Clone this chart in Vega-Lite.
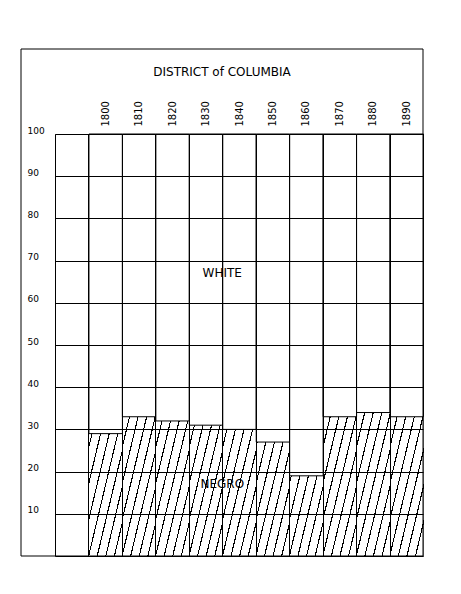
{
  "$schema": "https://vega.github.io/schema/vega-lite/v6.json",
  "width": 368,
  "height": 422,
  "autosize": {"type": "none"},
  "padding": {"left": 55, "top": 134, "right": 38, "bottom": 38},
  "background": "white",
  "config": {
    "view": {"stroke": "black", "strokeWidth": 1},
    "font": "DejaVu Sans",
    "axis": {"labelColor": "black", "labelFont": "DejaVu Sans", "gridColor": "black", "gridOpacity": 1, "gridWidth": 1}
  },
  "title": {
    "text": "DISTRICT of COLUMBIA",
    "anchor": "middle",
    "dx": -17,
    "fontSize": 12,
    "font": "DejaVu Sans",
    "fontWeight": "normal",
    "color": "black",
    "offset": -30
  },
  "datasets": {
    "pop": [
      {"year": 1800, "negro": 29},
      {"year": 1810, "negro": 33},
      {"year": 1820, "negro": 32},
      {"year": 1830, "negro": 31},
      {"year": 1840, "negro": 30},
      {"year": 1850, "negro": 27},
      {"year": 1860, "negro": 19},
      {"year": 1870, "negro": 33},
      {"year": 1880, "negro": 34},
      {"year": 1890, "negro": 33}
    ],
    "labels": [
      {"text": "WHITE", "year": 1835, "pct": 67},
      {"text": "NEGRO", "year": 1835, "pct": 17}
    ]
  },
  "resolve": {"axis": {"x": "independent"}},
  "layer": [
    {
      "data": {"name": "pop"},
      "mark": {
        "type": "bar",
        "binSpacing": 0,
        "strokeWidth": 0,
        "fill": {
          "gradient": "linear",
          "x1": 1, "y1": 1, "x2": 0.667, "y2": 0,
          "stops": [
            {"offset": 0, "color": "white"}, {"offset": 0.066923, "color": "white"}, {"offset": 0.066923, "color": "black"}, {"offset": 0.076923, "color": "black"},
            {"offset": 0.076923, "color": "white"}, {"offset": 0.143846, "color": "white"}, {"offset": 0.143846, "color": "black"}, {"offset": 0.153846, "color": "black"},
            {"offset": 0.153846, "color": "white"}, {"offset": 0.220769, "color": "white"}, {"offset": 0.220769, "color": "black"}, {"offset": 0.230769, "color": "black"},
            {"offset": 0.230769, "color": "white"}, {"offset": 0.297692, "color": "white"}, {"offset": 0.297692, "color": "black"}, {"offset": 0.307692, "color": "black"},
            {"offset": 0.307692, "color": "white"}, {"offset": 0.374615, "color": "white"}, {"offset": 0.374615, "color": "black"}, {"offset": 0.384615, "color": "black"},
            {"offset": 0.384615, "color": "white"}, {"offset": 0.451538, "color": "white"}, {"offset": 0.451538, "color": "black"}, {"offset": 0.461538, "color": "black"},
            {"offset": 0.461538, "color": "white"}, {"offset": 0.528462, "color": "white"}, {"offset": 0.528462, "color": "black"}, {"offset": 0.538462, "color": "black"},
            {"offset": 0.538462, "color": "white"}, {"offset": 0.605385, "color": "white"}, {"offset": 0.605385, "color": "black"}, {"offset": 0.615385, "color": "black"},
            {"offset": 0.615385, "color": "white"}, {"offset": 1, "color": "white"}
          ]
        }
      },
      "encoding": {
        "x": {
          "field": "year", "type": "quantitative",
          "bin": {"extent": [1785, 1895], "step": 10, "nice": false},
          "scale": {"domain": [1785, 1895], "nice": false, "zero": false},
          "axis": {"orient": "bottom", "values": [1795, 1805, 1815, 1825, 1835, 1845, 1855, 1865, 1875, 1885], "labels": false, "ticks": false, "domain": false, "grid": true, "title": null, "zindex": 1}
        },
        "y": {
          "datum": 100, "type": "quantitative", "scale": {"domain": [0, 100], "nice": false},
          "axis": {"orient": "left", "values": [10, 20, 30, 40, 50, 60, 70, 80, 90, 100], "labelAlign": "left", "labelBaseline": "alphabetic", "labelPadding": 28, "labelOffset": -1, "labelFontSize": 9, "ticks": false, "domain": false, "grid": true, "title": null, "zindex": 1}
        },
        "y2": {"datum": 0}
      }
    },
    {
      "data": {"name": "pop"},
      "mark": {"type": "bar", "binSpacing": 0, "fill": "white", "stroke": "black", "strokeWidth": 1},
      "encoding": {
        "x": {
          "field": "year", "type": "quantitative", "bin": {"extent": [1785, 1895], "step": 10, "nice": false},
          "axis": {"orient": "bottom", "values": [1795, 1805, 1815, 1825, 1835, 1845, 1855, 1865, 1875, 1885], "labels": false, "ticks": false, "domain": false, "grid": true, "title": null, "zindex": 1}
        },
        "y": {
          "field": "negro", "type": "quantitative",
          "axis": {"orient": "left", "values": [10, 20, 30, 40, 50, 60, 70, 80, 90, 100], "labelAlign": "left", "labelBaseline": "alphabetic", "labelPadding": 28, "labelOffset": -1, "labelFontSize": 9, "ticks": false, "domain": false, "grid": true, "title": null, "zindex": 1}
        },
        "y2": {"datum": 100}
      }
    },
    {
      "data": {"values": [{}]},
      "mark": {"type": "rect", "fillOpacity": 0, "stroke": "black", "strokeWidth": 1, "clip": false},
      "encoding": {
        "x": {
          "datum": 1774.84, "type": "quantitative",
          "axis": {"orient": "bottom", "values": [1795, 1805, 1815, 1825, 1835, 1845, 1855, 1865, 1875, 1885], "labels": false, "ticks": false, "domain": false, "grid": true, "title": null, "zindex": 1}
        },
        "x2": {"datum": 1895},
        "y": {
          "datum": 120.14, "type": "quantitative",
          "axis": {"orient": "left", "values": [10, 20, 30, 40, 50, 60, 70, 80, 90, 100], "labelAlign": "left", "labelBaseline": "alphabetic", "labelPadding": 28, "labelOffset": -1, "labelFontSize": 9, "ticks": false, "domain": false, "grid": true, "title": null, "zindex": 1}
        },
        "y2": {"datum": 0}
      }
    },
    {
      "data": {"name": "labels"},
      "mark": {"type": "text", "fontSize": 12, "font": "DejaVu Sans", "color": "black", "align": "center", "baseline": "middle"},
      "encoding": {
        "x": {
          "field": "year", "type": "quantitative",
          "axis": {
            "orient": "top", "values": [1800, 1810, 1820, 1830, 1840, 1850, 1860, 1870, 1880, 1890],
            "format": "d", "labelAngle": -90, "labelAlign": "left", "labelBaseline": "middle",
            "labelPadding": 8, "labelFontSize": 10, "labels": true, "ticks": false, "domain": false, "grid": false, "title": null
          }
        },
        "y": {
          "field": "pct", "type": "quantitative",
          "axis": {"orient": "left", "values": [10, 20, 30, 40, 50, 60, 70, 80, 90, 100], "labelAlign": "left", "labelBaseline": "alphabetic", "labelPadding": 28, "labelOffset": -1, "labelFontSize": 9, "ticks": false, "domain": false, "grid": true, "title": null, "zindex": 1}
        },
        "text": {"field": "text"}
      }
    }
  ]
}
